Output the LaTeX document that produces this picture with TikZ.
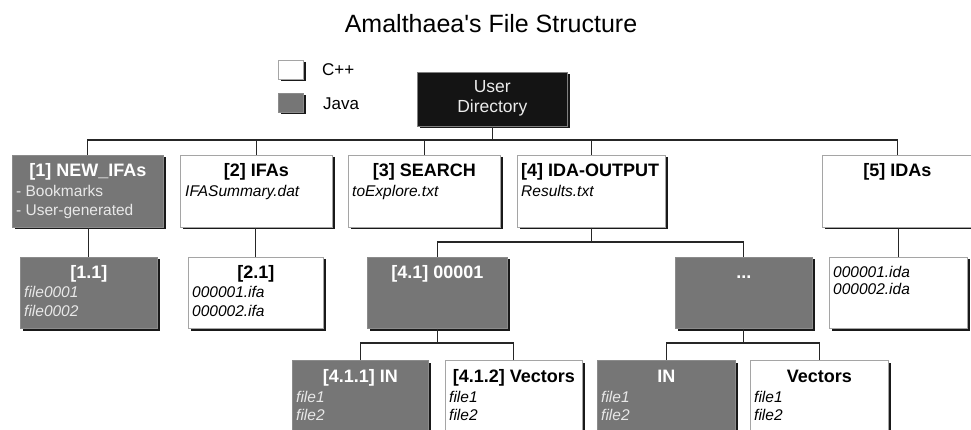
\documentclass[tikz,border=0pt]{standalone}
\usepackage{fontspec}
\setmainfont{Liberation Sans}
\usetikzlibrary{shadows}
\definecolor{jgray}{RGB}{118,118,118}
\definecolor{ltxt}{RGB}{232,232,232}
\definecolor{edgec}{RGB}{165,165,165}
\begin{document}
\begin{tikzpicture}[x=1pt,y=-1pt,
  shad/.style={drop shadow={shadow xshift=2.2pt,shadow yshift=-2.2pt,fill=black!90,opacity=1}},
  cbox/.style={draw=edgec,line width=0.6pt,fill=white,shad,inner sep=0pt,anchor=north west},
  jbox/.style={cbox,fill=jgray,draw=jgray!85!white},
  ttl/.style={font=\fontsize{18}{20}\selectfont\bfseries,anchor=base,inner sep=0pt},
  jttl/.style={ttl,text=white},
  bdy/.style={font=\fontsize{15.5}{19}\selectfont\itshape,anchor=base west,inner sep=0pt},
  jbdy/.style={bdy,text=ltxt},
  conn/.style={draw=black!85,line width=1.3pt}
]
\useasboundingbox (0,0) rectangle (971,430);
\fill[white] (0,0) rectangle (971,430);

% title
\node[font=\fontsize{25}{30}\selectfont,anchor=base,inner sep=0pt] (title) at (491,33) {Amalthaea\textquotesingle s File Structure};

% legend
\node[cbox,minimum width=25pt,minimum height=19pt] (legc) at (278,60) {};
\node[font=\fontsize{17}{20}\selectfont,anchor=base west,inner sep=0pt] (legct) at (322,76) {C++};
\node[jbox,minimum width=25pt,minimum height=19pt] (legj) at (278,93) {};
\node[font=\fontsize{17}{20}\selectfont,anchor=base west,inner sep=0pt] (legjt) at (323,110) {Java};

% root
\node[cbox,fill=black!92,draw=gray,minimum width=150pt,minimum height=54pt] (ud) at (417,72) {};
\node[font=\fontsize{17.5}{20}\selectfont,text=white!92!black,anchor=base,inner sep=0pt] (udt1) at ([yshift=-21pt]ud.north) {User};
\node[font=\fontsize{17.5}{20}\selectfont,text=white!92!black,anchor=base,inner sep=0pt] (udt2) at ([yshift=-41pt]ud.north) {Directory};

% row 1
\node[jbox,minimum width=151pt,minimum height=72pt] (b1) at (12,155) {};
\node[jttl] (b1t) at ([yshift=-21.5pt]b1.north) {[1] NEW\_IFAs};
\node[jbdy,font=\fontsize{15.5}{19}\selectfont] (b1a) at ([xshift=4pt,yshift=-41.5pt]b1.north west) {- Bookmarks};
\node[jbdy,font=\fontsize{15.5}{19}\selectfont] (b1b) at ([xshift=4pt,yshift=-60.5pt]b1.north west) {- User-generated};

\node[cbox,minimum width=152pt,minimum height=72pt] (b2) at (180,155) {};
\node[ttl] (b2t) at ([yshift=-21.5pt]b2.north) {[2] IFAs};
\node[bdy] (b2a) at ([xshift=5pt,yshift=-41.5pt]b2.north west) {IFASummary.dat};

\node[cbox,minimum width=152pt,minimum height=72pt] (b3) at (348,155) {};
\node[ttl] (b3t) at ([yshift=-21.5pt]b3.north) {[3] SEARCH};
\node[bdy] (b3a) at ([xshift=4pt,yshift=-41.5pt]b3.north west) {toExplore.txt};

\node[cbox,minimum width=148pt,minimum height=72pt] (b4) at (517,155) {};
\node[ttl,anchor=base west] (b4t) at ([xshift=4pt,yshift=-21.5pt]b4.north west) {[4] IDA-OUTPUT};
\node[bdy] (b4a) at ([xshift=4pt,yshift=-41.5pt]b4.north west) {Results.txt};

\node[cbox,minimum width=150pt,minimum height=72pt] (b5) at (822,155) {};
\node[ttl] (b5t) at ([yshift=-21.5pt]b5.north) {[5] IDAs};

% row 2
\node[jbox,minimum width=137pt,minimum height=71pt] (b11) at (20,257) {};
\node[jttl] (b11t) at ([yshift=-21.5pt]b11.north) {[1.1]};
\node[jbdy] (b11a) at ([xshift=4pt,yshift=-40.5pt]b11.north west) {file0001};
\node[jbdy] (b11b) at ([xshift=4pt,yshift=-59.5pt]b11.north west) {file0002};

\node[cbox,minimum width=135pt,minimum height=71pt] (b21) at (188,257) {};
\node[ttl] (b21t) at ([yshift=-21.5pt]b21.north) {[2.1]};
\node[bdy] (b21a) at ([xshift=4pt,yshift=-40.5pt]b21.north west) {000001.ifa};
\node[bdy] (b21b) at ([xshift=4pt,yshift=-59.5pt]b21.north west) {000002.ifa};

\node[jbox,minimum width=140pt,minimum height=71pt] (b41) at (367,257) {};
\node[jttl] (b41t) at ([yshift=-21.5pt]b41.north) {[4.1] 00001};

\node[jbox,minimum width=137pt,minimum height=71pt] (bdots) at (675,257) {};
\node[jttl] (bdotst) at ([yshift=-21.5pt]bdots.north) {...};

\node[cbox,minimum width=138pt,minimum height=71pt] (b51) at (829,257) {};
\node[bdy] (b51a) at ([xshift=4pt,yshift=-20.5pt]b51.north west) {000001.ida};
\node[bdy] (b51b) at ([xshift=4pt,yshift=-37.5pt]b51.north west) {000002.ida};

% row 3
\node[jbox,minimum width=136pt,minimum height=80pt] (b411) at (292,360) {};
\node[jttl] (b411t) at ([yshift=-22.5pt]b411.north) {[4.1.1] IN};
\node[jbdy] (b411a) at ([xshift=4pt,yshift=-42.5pt]b411.north west) {file1};
\node[jbdy] (b411b) at ([xshift=4pt,yshift=-60.5pt]b411.north west) {file2};

\node[cbox,minimum width=137pt,minimum height=80pt] (b412) at (445,360) {};
\node[ttl] (b412t) at ([yshift=-22.5pt]b412.north) {[4.1.2] Vectors};
\node[bdy] (b412a) at ([xshift=4pt,yshift=-42.5pt]b412.north west) {file1};
\node[bdy] (b412b) at ([xshift=4pt,yshift=-60.5pt]b412.north west) {file2};

\node[jbox,minimum width=138pt,minimum height=80pt] (bin) at (597,360) {};
\node[jttl] (bint) at ([yshift=-22.5pt]bin.north) {IN};
\node[jbdy] (bina) at ([xshift=4pt,yshift=-42.5pt]bin.north west) {file1};
\node[jbdy] (binb) at ([xshift=4pt,yshift=-60.5pt]bin.north west) {file2};

\node[cbox,minimum width=138pt,minimum height=80pt] (bvec) at (750,360) {};
\node[ttl] (bvect) at ([yshift=-22.5pt]bvec.north) {Vectors};
\node[bdy] (bveca) at ([xshift=4pt,yshift=-42.5pt]bvec.north west) {file1};
\node[bdy] (bvecb) at ([xshift=4pt,yshift=-60.5pt]bvec.north west) {file2};

% connectors
\coordinate (bus0) at (0,140);
\coordinate (bus1) at (0,242);
\coordinate (bus2) at (0,343);
\draw[conn] (ud.south) -- (ud.south |- bus0);
\draw[conn] (b1.north) -- (b1.north |- bus0) -- (b5.north |- bus0) -- (b5.north);
\draw[conn] (b2.north) -- (b2.north |- bus0);
\draw[conn] (b3.north) -- (b3.north |- bus0);
\draw[conn] (b4.north) -- (b4.north |- bus0);
\draw[conn] (b11.north) -- (b11.north |- b1.south);
\draw[conn] (b21.north) -- (b21.north |- b2.south);
\draw[conn] (b51.north) -- (b51.north |- b5.south);
\draw[conn] (b4.south) -- (b4.south |- bus1);
\draw[conn] (b41.north) -- (b41.north |- bus1) -- (bdots.north |- bus1) -- (bdots.north);
\draw[conn] (b41.south) -- (b41.south |- bus2);
\draw[conn] (b411.north) -- (b411.north |- bus2) -- (b412.north |- bus2) -- (b412.north);
\draw[conn] (bdots.south) -- (bdots.south |- bus2);
\draw[conn] (bin.north) -- (bin.north |- bus2) -- (bvec.north |- bus2) -- (bvec.north);
\end{tikzpicture}
\end{document}
